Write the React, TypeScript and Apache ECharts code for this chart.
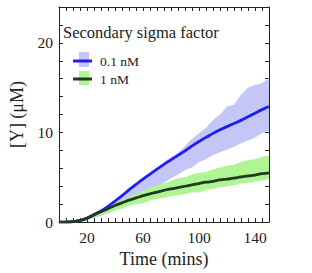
import React, { useEffect, useRef } from "react";
import * as echarts from "echarts";

const times = [0,5,10,15,20,25,30,35,40,45,50,55,60,65,70,75,80,85,90,95,100,105,110,115,120,125,130,135,140,145,150];
const blueMean = [0,0,0.05,0.18,0.45,0.85,1.25,1.75,2.35,2.95,3.6,4.2,4.8,5.35,5.9,6.45,6.95,7.45,7.95,8.5,9.0,9.45,9.9,10.3,10.65,11.0,11.35,11.75,12.15,12.55,12.9];
const blueUpper = [0,0.02,0.1,0.25,0.5,0.9,1.3,1.8,2.3,2.95,3.55,4.15,4.8,5.35,5.95,6.7,7.3,7.7,8.5,9.3,9.9,10.5,11.4,12.0,12.9,13.1,14.2,15.0,15.3,15.5,16.1];
const blueLower = [0,0,0.02,0.1,0.25,0.45,0.7,1.0,1.3,1.7,2.0,2.4,3.0,3.3,3.9,4.4,4.9,5.3,5.8,6.1,6.7,7.0,7.5,7.8,8.1,8.4,8.8,9.1,9.4,9.9,10.2];
const blackMean = [0,0,0.05,0.18,0.42,0.8,1.15,1.5,1.85,2.15,2.45,2.7,2.95,3.15,3.35,3.55,3.7,3.85,4.0,4.15,4.3,4.45,4.55,4.7,4.8,4.9,5.05,5.15,5.25,5.4,5.5];
const greenUpper = [0,0.02,0.08,0.25,0.5,0.9,1.3,1.7,2.1,2.5,2.8,3.2,3.5,3.8,4.1,4.3,4.6,4.9,5.0,5.3,5.5,5.6,5.9,6.1,6.3,6.4,6.7,6.9,7.0,7.3,7.4];
const greenLower = [0,0,0.02,0.1,0.3,0.55,0.85,1.05,1.3,1.5,1.8,2.0,2.1,2.4,2.6,2.7,2.9,3.0,3.1,3.3,3.3,3.6,3.7,3.9,4.0,4.1,4.3,4.4,4.5,4.6,4.8];
const xLabels = [20, 60, 100, 140];
const yLabels = [0, 10, 20];
const seriesNames = ["0.1 nM", "1 nM"];
const legendTitle = "Secondary sigma factor";

const FONT = "'Liberation Serif', 'DejaVu Serif', serif";

export default function App() {
  const ref = useRef<HTMLDivElement>(null);
  useEffect(() => {
    if (!ref.current) return;
    document.body.style.margin = "0";
    const chart = echarts.init(ref.current, null, { renderer: "svg" });
    const cats = times.map(String);
    const diff = (a: number[], b: number[]) => a.map((v, i) => +(v - b[i]).toFixed(3));
    const axisLine = { show: true, onZero: false, lineStyle: { color: "#222", width: 1 } };
    const xBase = {
      type: "category", data: cats, boundaryGap: false,
      axisLine, splitLine: { show: false },
      axisTick: { show: true, inside: true, length: 4, interval: 0, lineStyle: { color: "#222" } },
    };
    const yBase = {
      type: "value", min: 0, max: 24, interval: 2,
      axisLine, splitLine: { show: false },
      axisTick: { show: true, inside: true, length: 4, lineStyle: { color: "#222" } },
    };
    const band = (name: string, stack: string, data: number[], color: string | null) => ({
      name, type: "line", stack, data, showSymbol: false, symbol: "none",
      lineStyle: { opacity: 0, width: 0 },
      areaStyle: color ? { color, opacity: 1 } : undefined,
      silent: true, z: 1,
    });
    chart.setOption({
      animation: false,
      grid: { left: 51, right: 43, top: 7, bottom: 48 },
      xAxis: [
        {
          ...xBase, position: "bottom",
          name: "Time (mins)", nameLocation: "middle", nameGap: 23,
          nameTextStyle: { fontFamily: FONT, fontSize: 18, color: "#222" },
          axisLabel: {
            fontFamily: FONT, fontSize: 15.5, color: "#222", margin: 7, interval: 0,
            formatter: (v: string) => (xLabels.includes(Number(v)) ? v : ""),
          },
        },
        { ...xBase, position: "top", axisLabel: { show: false } },
      ],
      yAxis: [
        {
          ...yBase, position: "left",
          name: "[Y] (μM)", nameLocation: "middle", nameGap: 33,
          nameTextStyle: { fontFamily: FONT, fontSize: 18, color: "#222" },
          axisLabel: {
            fontFamily: FONT, fontSize: 15.5, color: "#222", margin: 6,
            formatter: (v: number) => (yLabels.includes(v) ? String(v) : ""),
          },
        },
        { ...yBase, position: "right", axisLabel: { show: false } },
      ],
      title: {
        text: legendTitle, left: 63, top: 24, padding: 0,
        textStyle: { fontFamily: FONT, fontSize: 16.5, fontWeight: "normal", color: "#222" },
      },
      legend: {
        data: seriesNames, orient: "vertical", left: 73, top: 54, padding: 0,
        icon: "rect", itemWidth: 19, itemHeight: 3, itemGap: 4,
        textStyle: { fontFamily: FONT, fontSize: 13.5, color: "#222", lineHeight: 14, padding: [0, 0, 0, 3] },
        z: 5,
      },
      graphic: [
        { type: "rect", left: 79, top: 52, shape: { width: 10, height: 15 }, style: { fill: "#c3c6f7" }, z: 3 },
        { type: "rect", left: 79, top: 71, shape: { width: 10, height: 14 }, style: { fill: "#b0f594" }, z: 3 },
      ],
      series: [
        band("blueLow", "b", blueLower, null),
        band("blueBand", "b", diff(blueUpper, blueLower), "#c3c6f7"),
        band("greenLow", "g", greenLower, null),
        band("greenBand", "g", diff(greenUpper, greenLower), "#b0f594"),
        {
          name: seriesNames[0], type: "line", data: blueMean, smooth: true,
          showSymbol: false, symbol: "none", color: "#1e1ef0",
          lineStyle: { color: "#1e1ef0", width: 2.8 }, z: 3,
        },
        {
          name: seriesNames[1], type: "line", data: blackMean, smooth: true,
          showSymbol: false, symbol: "none", color: "#213a21",
          lineStyle: { color: "#213a21", width: 2.8 }, z: 4,
        },
      ],
    });
    return () => chart.dispose();
  }, []);
  return <div ref={ref} style={{ width: 312, height: 273 }} />;
}
